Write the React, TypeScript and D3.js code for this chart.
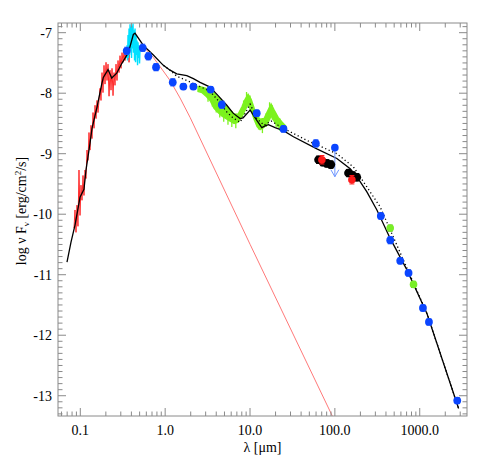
import React from "react";
import * as d3 from "d3";

const W = 491;
const H = 463;

// axes
const xDomain = [0.0546, 3606];
const yDomain = [-13.335, -6.84];
const xTickValues = [0.1, 1, 10, 100, 1000];
const xTickLabels = ["0.1", "1.0", "10.0", "100.0", "1000.0"];
const yTickValues = [-13, -12, -11, -10, -9, -8, -7];
const yTickLabels = ["-13", "-12", "-11", "-10", "-9", "-8", "-7"];

// total model (solid)
const modelLam = [0.0697, 0.0777, 0.0866, 0.0992, 0.1105, 0.1167, 0.1301, 0.1374, 0.1574, 0.1788, 0.1867, 0.2122, 0.2346, 0.2686, 0.3077, 0.3366, 0.3681, 0.4217, 0.4416, 0.5534, 0.7259, 0.9523, 1.142, 1.37, 1.798, 2.15, 2.579, 3.384, 4.206, 5.326, 6.319, 7.642, 8.29, 10.03, 12.03, 13.77, 15.07, 16.48, 19.77, 24.77, 32.5, 61.35, 105.6, 151.5, 181.6, 238.4, 312.7, 448.8, 706.3, 1216, 2871];
const modelLogF = [-10.79, -10.46, -10.18, -9.72, -9.59, -9.27, -8.83, -8.58, -8.23, -7.85, -7.74, -7.61, -7.75, -7.67, -7.51, -7.42, -7.33, -7.03, -7.01, -7.21, -7.37, -7.54, -7.62, -7.68, -7.71, -7.76, -7.82, -7.9, -8.04, -8.2, -8.33, -8.42, -8.41, -8.28, -8.45, -8.57, -8.54, -8.52, -8.57, -8.62, -8.72, -8.92, -9.08, -9.25, -9.38, -9.63, -9.93, -10.4, -10.92, -11.64, -13.21];

// alternative model (dotted)
const dottedLam = [0.9523, 1.142, 1.37, 1.798, 2.15, 2.579, 3.384, 4.206, 5.326, 6.319, 7.642, 8.48, 10.03, 12.03, 14.66, 17.74, 21.45, 27.16, 46.77, 105.6, 165.7, 238.4, 342, 448.8, 706.3, 1216, 2871];
const dottedLogF = [-7.54, -7.62, -7.72, -7.79, -7.84, -7.89, -7.97, -8.12, -8.31, -8.41, -8.48, -8.37, -8.18, -8.42, -8.53, -8.46, -8.53, -8.61, -8.78, -9.0, -9.22, -9.55, -9.88, -10.26, -10.89, -11.64, -13.21];

// stellar photosphere (thin red)
const photLam = [0.5534, 0.7259, 0.8708, 1.142, 1.499, 1.966, 10.03, 92.2, 110];
const photLogF = [-7.23, -7.41, -7.56, -7.79, -8.08, -8.4, -10.5, -13.32, -13.55];

// UV / optical spectrum (red)
const redSpecLam = [0.0843, 0.0866, 0.089, 0.0914, 0.0939, 0.0965, 0.0992, 0.1019, 0.1047, 0.1076, 0.1105, 0.1136, 0.1167, 0.1199, 0.1232, 0.1266, 0.1301, 0.1337, 0.1374, 0.1412, 0.1451, 0.1491, 0.1532, 0.1574, 0.1617, 0.1707, 0.1754, 0.1803, 0.1852, 0.1903, 0.1956, 0.201, 0.2065, 0.2122, 0.2181, 0.2241, 0.2301, 0.2365, 0.243, 0.2496, 0.2565, 0.2636, 0.2708, 0.2783, 0.286, 0.2938, 0.302, 0.3102, 0.3188, 0.3276, 0.3366, 0.3458, 0.3554, 0.3651, 0.3752, 0.3855];
const redSpecLogF = [-10.23, -9.93, -10.3, -9.85, -10.2, -9.27, -10.02, -9.52, -9.77, -9.36, -9.69, -9.27, -9.41, -8.94, -9.11, -8.65, -8.94, -8.53, -8.75, -8.32, -8.58, -8.2, -8.42, -8.12, -8.32, -7.92, -8.12, -7.66, -7.99, -7.54, -7.85, -7.49, -7.79, -7.52, -8.05, -7.62, -7.95, -7.59, -8.04, -7.66, -7.87, -7.52, -7.79, -7.46, -7.66, -7.38, -7.59, -7.33, -7.49, -7.29, -7.46, -7.26, -7.42, -7.29, -7.49, -7.21];

// optical spectrum (cyan)
const cyanLam = [0.3506, 0.3554, 0.3602, 0.3651, 0.3701, 0.3752, 0.3803, 0.3855, 0.3908, 0.3961, 0.4016, 0.407, 0.4126, 0.4182, 0.424, 0.4298, 0.4357, 0.4416, 0.4477, 0.4538, 0.46, 0.4663, 0.4727, 0.4792, 0.4857, 0.4924, 0.4991, 0.5058];
const cyanLogF = [-7.42, -7.21, -7.46, -7.04, -7.42, -6.93, -7.37, -6.86, -7.29, -6.9, -7.42, -6.88, -7.26, -6.85, -7.33, -6.96, -7.46, -6.93, -7.49, -7.04, -7.37, -7.13, -7.54, -7.16, -7.42, -7.21, -7.51, -7.26];

// IR spectrum (green band)
const greenLam = [2.443, 2.724, 3.036, 3.384, 3.773, 4.206, 4.688, 5.226, 5.826, 6.494, 7.239, 8.069, 8.754, 9.497, 10.3, 11.17, 12.13, 13.15, 14.66, 16.35, 17.74, 19.24, 21.45, 23.9, 26.65];
const greenHi = [-7.89, -7.9, -7.92, -7.95, -8.0, -8.07, -8.13, -8.22, -8.28, -8.35, -8.35, -8.22, -8.1, -8.02, -8.1, -8.25, -8.38, -8.43, -8.42, -8.28, -8.18, -8.28, -8.4, -8.48, -8.55];
const greenLo = [-7.97, -7.99, -8.05, -8.12, -8.25, -8.32, -8.38, -8.42, -8.46, -8.5, -8.48, -8.38, -8.28, -8.18, -8.28, -8.43, -8.55, -8.6, -8.56, -8.48, -8.37, -8.46, -8.55, -8.61, -8.63];
// noise spikes in the IR spectrum
const spikeLam = [3.2, 3.6, 4.0, 4.4, 4.9, 5.5, 6.1, 6.8, 8.4, 9.1, 10.0, 12.6, 14.0, 15.5, 17.0, 18.3, 20.3, 22.5];
const spikeTop = [-7.98, -8.02, -8.1, -8.16, -8.2, -8.26, -8.3, -8.34, -8.12, -7.98, -8.04, -8.38, -8.42, -8.33, -8.15, -8.2, -8.34, -8.42];
const spikeBot = [-8.14, -8.22, -8.32, -8.4, -8.47, -8.52, -8.56, -8.58, -8.36, -8.24, -8.3, -8.6, -8.66, -8.56, -8.44, -8.44, -8.56, -8.62];

// photometry
const blueLam = [0.3525, 0.544, 0.6336, 0.781, 1.229, 1.639, 2.15, 3.43, 4.65, 12.0, 24.8, 59.7, 348, 449, 589, 738, 1091, 1284, 2767];
const blueLogF = [-7.3, -7.25, -7.39, -7.57, -7.82, -7.89, -7.89, -7.94, -8.19, -8.33, -8.59, -8.83, -10.03, -10.43, -10.77, -10.97, -11.55, -11.78, -13.08];
const blueErr = [0.06, 0.06, 0.06, 0.06, 0.06, 0.05, 0.05, 0.05, 0.06, 0.05, 0.05, 0.06, 0.05, 0.06, 0.05, 0.05, 0.05, 0.05, 0.05];

const greenPtLam = [449, 845];
const greenPtLogF = [-10.23, -11.16];

const blackLam = [64.1, 72.2, 80.5, 89.8, 144.5, 162.9, 181.6];
const blackLogF = [-9.1, -9.14, -9.16, -9.18, -9.32, -9.36, -9.39];

const redPtLam = [70.3, 158.7];
const redPtLogF = [-9.1, -9.43];

const ulLam = [100];
const ulLogF = [-8.9];
const ulLogFTo = [-9.38];

const M = { left: 58, right: 467, top: 23, bottom: 416 };
const AXIS = "#8a8a8a";
const FONT = '"Liberation Serif", "DejaVu Serif", "Times New Roman", serif';
const GREEN = "#7cf21e";

export default function App() {
  const x = d3.scaleLog().domain(xDomain).range([M.left, M.right]);
  const y = d3.scaleLinear().domain(yDomain).range([M.bottom, M.top]);

  const mkLine = (lams: number[], vals: number[]) =>
    d3
      .line<number>()
      .x((_, i) => x(lams[i]))
      .y((d) => y(d))(vals) || "";

  const greenArea =
    d3
      .area<number>()
      .x((_, i) => x(greenLam[i]))
      .y0((_, i) => y(greenLo[i]))
      .y1((d) => y(d))(greenHi) || "";

  // minor ticks
  const xMinor: number[] = [];
  for (let e = -2; e <= 3; e++) {
    for (let k = 2; k <= 9; k++) {
      const v = k * Math.pow(10, e);
      if (v >= xDomain[0] && v <= xDomain[1]) xMinor.push(v);
    }
  }
  const yMinor: number[] = [];
  for (let i = -133; i <= -69; i++) {
    if (i % 10 !== 0) yMinor.push(i / 10);
  }

  const majLen = 8;
  const minLen = 4.5;

  const errBar = (cx: number, v: number, e: number, color: string, key: string) => {
    const y1 = y(v + e);
    const y2 = y(v - e);
    return (
      <g key={key} stroke={color} strokeWidth={1}>
        <line x1={cx} x2={cx} y1={y1} y2={y2} />
        <line x1={cx - 2.5} x2={cx + 2.5} y1={y1} y2={y1} />
        <line x1={cx - 2.5} x2={cx + 2.5} y1={y2} y2={y2} />
      </g>
    );
  };

  const textStyle = { fontFamily: FONT };

  return (
    <svg
      width={W}
      height={H}
      style={{ position: "absolute", left: 0, top: 0, background: "#fff" }}
    >
      <defs>
        <clipPath id="plotclip">
          <rect x={M.left} y={M.top} width={M.right - M.left} height={M.bottom - M.top} />
        </clipPath>
      </defs>

      <g clipPath="url(#plotclip)">
        {/* spectra */}
        <path d={mkLine(redSpecLam, redSpecLogF)} fill="none" stroke="#ff2a2a" strokeWidth={1} />
        <path d={mkLine(cyanLam, cyanLogF)} fill="none" stroke="#00e0ff" strokeWidth={1.4} />
        <path d={greenArea} fill={GREEN} stroke={GREEN} strokeWidth={1.5} />
        <g stroke={GREEN} strokeWidth={1.3}>
          {spikeLam.map((l, i) => (
            <line key={"sp" + i} x1={x(l)} x2={x(l)} y1={y(spikeTop[i])} y2={y(spikeBot[i])} />
          ))}
        </g>
        {/* photosphere */}
        <path d={mkLine(photLam, photLogF)} fill="none" stroke="#ff6a6a" strokeWidth={0.9} />
        {/* models */}
        <path
          d={mkLine(dottedLam, dottedLogF)}
          fill="none"
          stroke="#000"
          strokeWidth={1.3}
          strokeDasharray="1.2,2.6"
        />
        <path d={mkLine(modelLam, modelLogF)} fill="none" stroke="#000" strokeWidth={1.3} />

        {/* upper limit */}
        {ulLam.map((l, i) => {
          const cx = x(l);
          const y0 = y(ulLogF[i]);
          const y1 = y(ulLogFTo[i]);
          return (
            <g key={"ul" + i} stroke="#6d95ff" strokeWidth={1} fill="none">
              <line x1={cx} x2={cx} y1={y0} y2={y1} />
              <polyline points={`${cx - 4},${y1 - 7} ${cx},${y1} ${cx + 4},${y1 - 7}`} />
              <circle cx={cx} cy={y0} r={3.8} fill="#0a45ff" stroke="none" />
            </g>
          );
        })}

        {/* blue photometry */}
        {blueLam.map((l, i) => errBar(x(l), blueLogF[i], blueErr[i], "#2f62ff", "be" + i))}
        {blueLam.map((l, i) => (
          <circle key={"b" + i} cx={x(l)} cy={y(blueLogF[i])} r={3.9} fill="#0a45ff" />
        ))}

        {/* black photometry */}
        {blackLam.map((l, i) => errBar(x(l), blackLogF[i], 0.06, "#000", "ke" + i))}
        {blackLam.map((l, i) => (
          <circle key={"k" + i} cx={x(l)} cy={y(blackLogF[i])} r={4.3} fill="#000" />
        ))}

        {/* red photometry */}
        {redPtLam.map((l, i) => errBar(x(l), redPtLogF[i], 0.07, "#ff1a1a", "re" + i))}
        {redPtLam.map((l, i) => (
          <circle key={"r" + i} cx={x(l)} cy={y(redPtLogF[i])} r={3.8} fill="#ff1a1a" />
        ))}

        {/* green photometry */}
        {greenPtLam.map((l, i) => errBar(x(l), greenPtLogF[i], 0.05, "#4a9a1a", "ge" + i))}
        {greenPtLam.map((l, i) => (
          <circle key={"g" + i} cx={x(l)} cy={y(greenPtLogF[i])} r={3.8} fill="#78ee26" />
        ))}
      </g>

      {/* frame */}
      <rect
        x={M.left}
        y={M.top}
        width={M.right - M.left}
        height={M.bottom - M.top}
        fill="none"
        stroke={AXIS}
        strokeWidth={1}
      />

      {/* ticks */}
      <g stroke={AXIS} strokeWidth={1}>
        {xTickValues.map((v) => (
          <g key={"xt" + v}>
            <line x1={x(v)} x2={x(v)} y1={M.bottom} y2={M.bottom - majLen} />
            <line x1={x(v)} x2={x(v)} y1={M.top} y2={M.top + majLen} />
          </g>
        ))}
        {xMinor.map((v) => (
          <g key={"xm" + v}>
            <line x1={x(v)} x2={x(v)} y1={M.bottom} y2={M.bottom - minLen} />
            <line x1={x(v)} x2={x(v)} y1={M.top} y2={M.top + minLen} />
          </g>
        ))}
        {yTickValues.map((v) => (
          <g key={"yt" + v}>
            <line x1={M.left} x2={M.left + majLen} y1={y(v)} y2={y(v)} />
            <line x1={M.right} x2={M.right - majLen} y1={y(v)} y2={y(v)} />
          </g>
        ))}
        {yMinor.map((v) => (
          <g key={"ym" + v}>
            <line x1={M.left} x2={M.left + minLen} y1={y(v)} y2={y(v)} />
            <line x1={M.right} x2={M.right - minLen} y1={y(v)} y2={y(v)} />
          </g>
        ))}
      </g>

      {/* tick labels */}
      <g fontSize={14} fill="#000">
        {xTickValues.map((v, i) => (
          <text key={"xl" + v} x={x(v)} y={M.bottom + 19} textAnchor="middle" style={textStyle}>
            {xTickLabels[i]}
          </text>
        ))}
        {yTickValues.map((v, i) => (
          <text key={"yl" + v} x={M.left - 6} y={y(v)} dy="0.35em" textAnchor="end" style={textStyle}>
            {yTickLabels[i]}
          </text>
        ))}
      </g>

      {/* axis titles */}
      <text x={(M.left + M.right) / 2} y={452} textAnchor="middle" fontSize={14} fill="#000" style={textStyle}>
        λ [μm]
      </text>
      <text
        transform={`translate(26,211) rotate(-90)`}
        textAnchor="middle"
        fontSize={14}
        fill="#000"
        style={textStyle}
      >
        log ν F
        <tspan fontSize={9} dy={3}>ν</tspan>
        <tspan dy={-3}> [erg/cm</tspan>
        <tspan fontSize={9} dy={-5}>2</tspan>
        <tspan dy={5}>/s]</tspan>
      </text>
    </svg>
  );
}
